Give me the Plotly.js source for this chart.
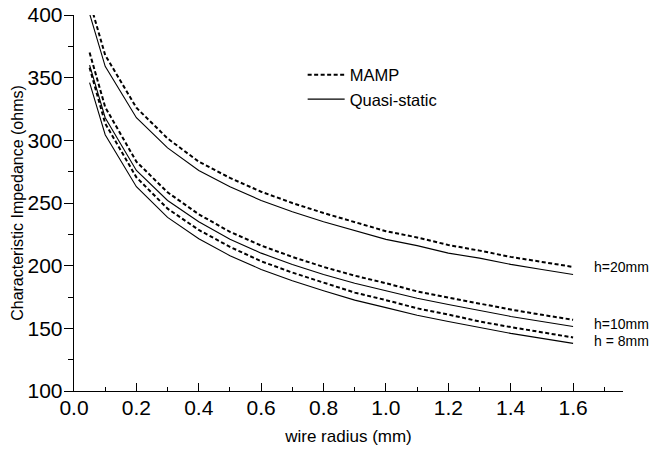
<!DOCTYPE html>
<html>
<head>
<meta charset="utf-8">
<script src="https://cdn.plot.ly/plotly-3.0.1.min.js"></script>
<style>html,body{margin:0;padding:0;background:#fff;}#chart{width:662px;height:455px;}</style>
</head>
<body>
<div id="chart"></div>
<script>
// wire radius (mm)
const radius = [0.05, 0.1, 0.2, 0.3, 0.4, 0.5, 0.6, 0.7, 0.8, 0.9, 1.0, 1.1, 1.2, 1.3, 1.4, 1.5, 1.6];

// Characteristic impedance (ohms)
const mamp_h20  = [411, 368, 326, 301.5, 283, 270, 259, 250, 242, 234.5, 227.5, 222.5, 216.5, 212, 207, 203, 199];
const quasi_h20 = [401, 359, 318, 294, 276, 263, 252, 243, 235, 228, 221, 216, 210, 206, 201, 197, 193];
const mamp_h10  = [370, 326.5, 283, 258.5, 241, 227, 216, 207, 199, 192, 186, 179.5, 174.5, 169.5, 165, 160.8, 156.8];
const quasi_h10 = [360, 318, 276, 252, 235, 221, 210, 201, 193, 186, 180, 174, 169, 164, 159.5, 155.5, 151.5];
const mamp_h8   = [358, 313.5, 270.5, 245.5, 228.5, 215, 203.5, 194.5, 186.5, 178.5, 172.5, 166, 161, 155.5, 151, 146.8, 142.7];
const quasi_h8  = [346, 304.5, 263, 238.5, 221.5, 208, 197, 188, 180, 172.5, 166.5, 160.5, 155.5, 150.5, 146, 142, 138];

const seriesNames = ["MAMP", "Quasi-static"];
const curveLabels = ["h=20mm", "h=10mm", "h = 8mm"];
const labelY = [198.6, 153.4, 140];

const FONT = "Liberation Sans, Arial, Helvetica, sans-serif";
const dashLine = {color: "#000", width: 2, dash: "4px,2.5px"};
const solidLine = {color: "#000", width: 1.1};

function tr(y, isMamp, show) {
  return {
    x: radius, y: y, type: "scatter", mode: "lines",
    name: isMamp ? seriesNames[0] : seriesNames[1],
    legendgroup: isMamp ? "m" : "q",
    showlegend: show,
    line: isMamp ? dashLine : solidLine,
    hoverinfo: "skip"
  };
}

const data = [
  tr(mamp_h20, true, true),
  tr(quasi_h20, false, true),
  tr(mamp_h10, true, false),
  tr(quasi_h10, false, false),
  tr(mamp_h8, true, false),
  tr(quasi_h8, false, false)
];

const annotations = curveLabels.map((t, i) => ({
  x: 1.662, y: labelY[i], xref: "x", yref: "y",
  text: t, showarrow: false, xanchor: "left", yanchor: "middle",
  font: {family: FONT, size: 14, color: "#000"}
}));

const layout = {
  width: 662, height: 455,
  margin: {l: 74, r: 39, t: 15, b: 64, pad: 0},
  paper_bgcolor: "#fff", plot_bgcolor: "#fff",
  font: {family: FONT, color: "#000"},
  showlegend: true,
  legend: {
    x: 0.4165, y: 0.887, xanchor: "left", yanchor: "top",
    bgcolor: "rgba(0,0,0,0)", borderwidth: 0,
    font: {family: FONT, size: 16.5, color: "#000"},
    itemwidth: 37,
    tracegroupgap: 0
  },
  xaxis: {
    range: [0, 1.76], showgrid: false, zeroline: false,
    showline: true, linecolor: "#000", linewidth: 1.3,
    ticks: "inside", ticklen: 8, tickwidth: 1, tickcolor: "#000",
    tick0: 0, dtick: 0.2, tickformat: ".1f",
    ticklabelstandoff: -3,
    tickfont: {family: FONT, size: 21, color: "#000"},
    minor: {ticks: "inside", ticklen: 4, dtick: 0.1, tick0: 0, tickcolor: "#000", tickwidth: 1, showgrid: false},
    title: {text: "wire radius (mm)", font: {family: FONT, size: 17, color: "#000"}, standoff: 12}
  },
  yaxis: {
    range: [100, 400], showgrid: false, zeroline: false,
    showline: true, linecolor: "#000", linewidth: 1.3,
    ticks: "outside", ticklen: 9, tickwidth: 1, tickcolor: "#000",
    tick0: 100, dtick: 50,
    ticklabelstandoff: -3,
    tickfont: {family: FONT, size: 21, color: "#000"},
    minor: {ticks: "outside", ticklen: 5, dtick: 25, tick0: 100, tickcolor: "#000", tickwidth: 1, showgrid: false},
    title: {text: "Characteristic Impedance (ohms)", font: {family: FONT, size: 16, color: "#000"}, standoff: 0}
  },
  annotations: annotations
};

Plotly.newPlot("chart", data, layout, {displayModeBar: false, staticPlot: true});
</script>
</body>
</html>
